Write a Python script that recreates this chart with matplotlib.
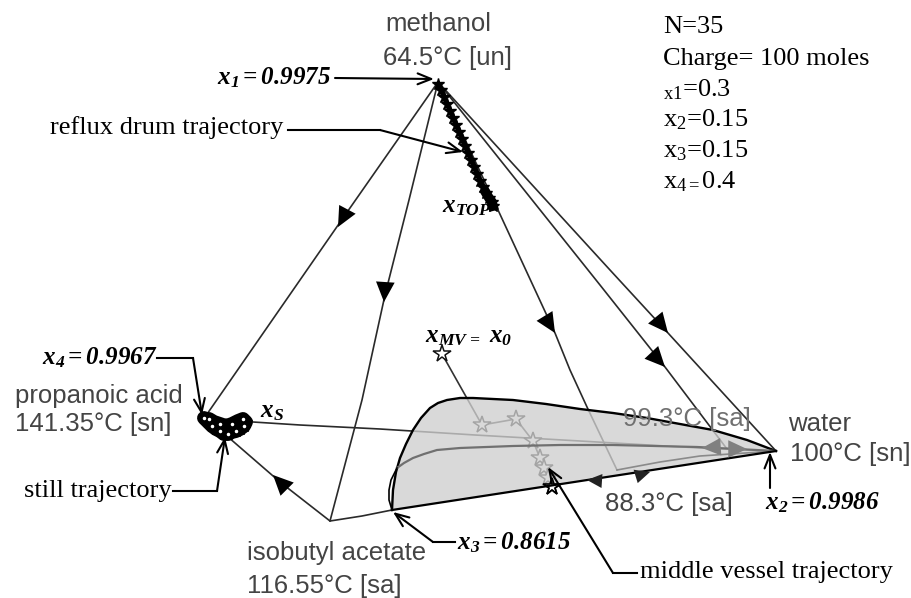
import matplotlib
matplotlib.use("Agg")
import matplotlib.pyplot as plt

plt.rcParams['mathtext.fontset'] = 'custom'
plt.rcParams['mathtext.rm'] = 'Liberation Serif'
plt.rcParams['mathtext.it'] = 'Liberation Serif:italic'
plt.rcParams['mathtext.bf'] = 'Liberation Serif:bold'
plt.rcParams['mathtext.bfit'] = 'Liberation Serif:italic:bold'

# residue curves / boundaries
curve_left_x = [438, 343, 205]
curve_left_y = [82, 218, 417]
curve_mid_x = [438, 409, 385, 362, 330]
curve_mid_y = [82, 200, 295, 400, 521]
curve_top_x = [438, 492, 555, 570, 587, 617]
curve_top_y = [82, 197, 333, 370, 407, 470]
curve_r1_x = [438, 610, 668, 776]
curve_r1_y = [82, 270, 333, 451]
curve_r2_x = [438, 600, 665, 727]
curve_r2_y = [82, 285, 367, 449]
base_x = [205, 280, 330, 362, 392]
base_y = [417, 482, 521, 516, 510]
front_x = [392, 776]
front_y = [510, 451]
still_line_x = [253, 300, 380, 475, 580, 700, 776]
still_line_y = [422, 425, 429, 435, 441, 448, 451]

# shaded separatrix surface
sep_x = [392, 393, 396, 400, 406, 413, 421, 430, 438, 447, 460, 473, 493, 513, 546, 580, 613, 647, 680, 713, 747, 776]
sep_y = [510, 490, 472, 458, 444, 430, 418, 408, 403, 400, 398, 398, 399, 400, 404, 409, 413, 418, 424, 430, 440, 451]
inner_x = [397, 404, 413, 424, 437, 460, 513, 560, 613, 697, 776]
inner_y = [468, 463, 458, 454, 450, 448, 446, 445, 445, 447, 451]
loop_x = [392, 389, 389, 391, 397]
loop_y = [510, 500, 490, 480, 468]
gray_r_x = [617, 660, 700, 776]
gray_r_y = [470, 462, 456, 451]

# trajectories
mv_x = [442, 482, 516, 533, 540, 544, 548, 552]
mv_y = [354, 425, 419, 441, 458, 468, 478, 487]
reflux_x = [438, 441, 444, 447, 450, 453, 456, 459, 462, 465, 468, 471, 474, 477, 480, 483, 486, 489, 492, 493]
reflux_y = [84, 90, 97, 104, 111, 118, 125, 132, 139, 146, 153, 160, 167, 174, 181, 187, 193, 198, 202, 206]
still_x = [204, 208, 212, 216, 220, 224, 228, 232, 236, 240, 244, 246, 243, 238, 232, 226, 220, 214, 209]
still_y = [418, 422, 426, 429, 431, 434, 434, 432, 431, 429, 426, 422, 419, 421, 424, 426, 424, 422, 419]

# flow arrows (tail x, tail y, tip x, tip y)
big_arrows = [
    (346, 212, 338, 227), (385, 287, 384, 302), (547, 320, 555, 333),
    (654, 316, 668, 333), (651, 352, 665, 367), (285, 487, 273, 475),
]
small_arrows = [(602, 481, 587, 480), (637, 476, 650, 472)]
gray_arrows = [(717, 447, 702, 448), (733, 449, 747, 449)]

# callouts
callouts = [
    ([335, 434], [78, 79]),
    ([288, 380, 463], [130, 130, 152]),
    ([157, 193, 202], [358, 358, 415]),
    ([173, 217, 225], [491, 491, 437]),
    ([455, 433, 393], [542, 542, 512]),
    ([770, 770], [488, 452]),
    ([637, 613, 548], [573, 573, 467]),
]

gray_labels = [
    ("methanol", 385, 24, '#444444'), ("64.5°C [un]", 383, 58, '#444444'),
    ("propanoic acid", 15, 396, '#444444'), ("141.35°C [sn]", 15, 424, '#444444'),
    ("isobutyl acetate", 247, 553, '#444444'), ("116.55°C [sa]", 247, 586, '#444444'),
    ("water", 788, 424, '#444444'), ("100°C [sn]", 790, 454, '#444444'),
    ("99.3°C [sa]", 623, 419, '#707070'), ("88.3°C [sa]", 605, 504, '#444444'),
]
serif_labels = [
    ("reflux drum trajectory", 50, 128), ("still trajectory", 24, 491),
    ("middle vessel trajectory", 640, 572),
    ("N=35", 663, 27), ("Charge= 100 moles", 663, 59),
    (r"$_{\mathrm{x1}}$=0.3", 663, 90), (r"x$_{\mathrm{2}}$=0.15", 663, 120),
    (r"x$_{\mathrm{3}}$=0.15", 663, 151), (r"x$_{\mathrm{4=}}$0.4", 663, 182),
]
bold_labels = [
    (r"$\mathbfit{x_1{=}0.9975}$", 217, 78),
    (r"$\mathbfit{x_4{=}0.9967}$", 42, 358),
    (r"$\mathbfit{x_2{=}0.9986}$", 765, 503),
    (r"$\mathbfit{x_3{=}0.8615}$", 457, 543),
    (r"$\mathbfit{x_{TOP}}$", 442, 206),
    (r"$\mathbfit{x_S}$", 260, 411),
    (r"$\mathbfit{x_{MV\,{=}}\ x_0}$", 425, 336),
]

fig = plt.figure(figsize=(9.11, 5.98), dpi=100)
ax = fig.add_axes([0, 0, 1, 1])
ax.set_xlim(0, 911)
ax.set_ylim(598, 0)
ax.axis('off')

for xs, ys in [(curve_left_x, curve_left_y), (curve_mid_x, curve_mid_y), (curve_top_x, curve_top_y),
               (curve_r1_x, curve_r1_y), (curve_r2_x, curve_r2_y), (base_x, base_y),
               (still_line_x, still_line_y)]:
    ax.plot(xs, ys, color='#2a2a2a', lw=1.2, zorder=2)

ax.plot(mv_x, mv_y, color='#333333', lw=1.2, zorder=2)
ax.plot(mv_x, mv_y, ls='none', marker='*', ms=13, mfc='white', mec='#111111', mew=1.1, zorder=3)

ax.fill(sep_x, sep_y, facecolor='#cfcfcf', alpha=0.78, edgecolor='none', zorder=4)

ax.plot(sep_x, sep_y, color='black', lw=1.7, zorder=6)
ax.plot(inner_x, inner_y, color='#707070', lw=1.6, zorder=6)
ax.plot(gray_r_x, gray_r_y, color='#8a8a8a', lw=1.2, zorder=5)
ax.plot(loop_x, loop_y, color='black', lw=1.2, zorder=6)
ax.plot(front_x, front_y, color='black', lw=1.6, zorder=6)

ax.plot(reflux_x, reflux_y, color='black', lw=3.5, zorder=5)
ax.plot(reflux_x, reflux_y, ls='none', marker='*', ms=9, color='black', zorder=5)
ax.plot(reflux_x[-4:], reflux_y[-4:], color='black', lw=7, zorder=5)
ax.plot(still_x, still_y, color='black', lw=10, solid_joinstyle='round', solid_capstyle='round', zorder=5)
ax.plot(still_x, still_y, ls='none', marker='*', ms=9, color='black', zorder=5)
ax.plot(still_x[::2], still_y[::2], ls='none', marker='o', ms=1.5, color='white', zorder=6)
ax.plot(mv_x[-1:], mv_y[-1:], ls='none', marker='*', ms=13, mfc='none', mec='black', mew=1.2, zorder=6)


def arrows(items, color, scale):
    for x0, y0, x1, y1 in items:
        ax.annotate('', xy=(x1, y1), xytext=(x0, y0), zorder=7,
                    arrowprops=dict(arrowstyle='-|>,head_length=0.9,head_width=0.42', mutation_scale=scale,
                                    color=color, lw=0, shrinkA=0, shrinkB=0))


arrows(big_arrows, 'black', 16)
arrows(small_arrows, '#222222', 12)
arrows(gray_arrows, '#808080', 15)

for xs, ys in callouts:
    ax.plot(xs[:-1], ys[:-1], color='black', lw=1.5, zorder=8)
    ax.annotate('', xy=(xs[-1], ys[-1]), xytext=(xs[-2], ys[-2]), zorder=8,
                arrowprops=dict(arrowstyle='->,head_length=0.7,head_width=0.28', mutation_scale=14,
                                color='black', lw=1.5, shrinkA=0, shrinkB=0))

for s, x, y, c in gray_labels:
    ax.text(x, y, s, family='Liberation Sans', fontsize=18.5, color=c, va='center', ha='left', zorder=9)
for s, x, y in serif_labels:
    ax.text(x, y, s, family='Liberation Serif', fontsize=19, color='black', va='center', ha='left', zorder=9)
for s, x, y in bold_labels:
    ax.text(x, y, s, fontsize=18, color='black', va='center', ha='left', zorder=9)

fig.savefig('out.png', dpi=100)
